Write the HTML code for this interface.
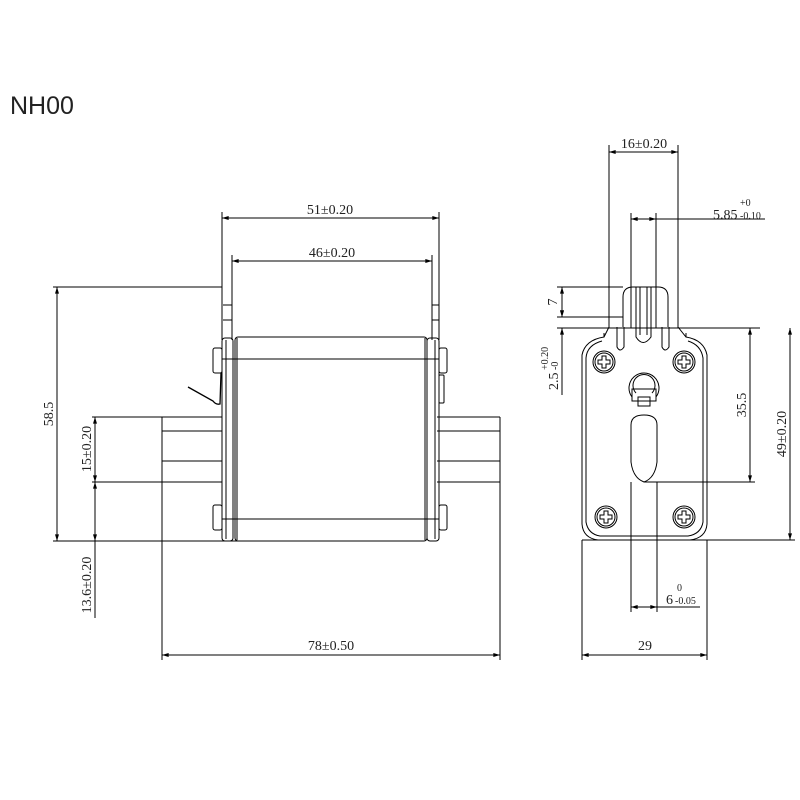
<!DOCTYPE html>
<html><head><meta charset="utf-8"><style>
html,body{margin:0;padding:0;background:#fff;width:800px;height:800px;overflow:hidden}
svg{display:block}
text{font-family:"Liberation Serif","DejaVu Serif",serif;fill:#222}
</style></head><body>
<svg width="800" height="800" viewBox="0 0 800 800" xmlns="http://www.w3.org/2000/svg">
<defs>
<marker id="a" viewBox="0 0 10 6" refX="10" refY="3" markerWidth="8" markerHeight="4" orient="auto-start-reverse" markerUnits="userSpaceOnUse"><path d="M0,0 L10,3 L0,6z" fill="#000"/></marker>
</defs>
<text x="10" y="114" style="font-family:'Liberation Sans',sans-serif;font-size:25px" fill="#111">NH00</text>
<g stroke="#000" stroke-width="1" fill="none">
<!-- LEFT VIEW -->
<!-- blades -->
<line x1="92" y1="417" x2="222" y2="417"/>
<line x1="162" y1="431" x2="222" y2="431"/>
<line x1="162" y1="461" x2="222" y2="461"/>
<line x1="92" y1="482" x2="222" y2="482"/>
<line x1="162" y1="417" x2="162" y2="660"/>
<line x1="437" y1="417" x2="500" y2="417"/>
<line x1="437" y1="431" x2="500" y2="431"/>
<line x1="437" y1="461" x2="500" y2="461"/>
<line x1="437" y1="482" x2="500" y2="482"/>
<line x1="500" y1="417" x2="500" y2="660"/>
<!-- top tabs -->
<line x1="222" y1="212" x2="222" y2="340"/>
<line x1="232" y1="255" x2="232" y2="340"/>
<line x1="223" y1="305" x2="232" y2="305"/>
<line x1="223" y1="320" x2="232" y2="320"/>
<line x1="439" y1="212" x2="439" y2="340"/>
<line x1="432" y1="255" x2="432" y2="340"/>
<line x1="432" y1="305" x2="439" y2="305"/>
<line x1="432" y1="320" x2="439" y2="320"/>
<!-- ext lines horizontal -->
<line x1="53" y1="287" x2="222" y2="287"/>
<line x1="53" y1="541" x2="258" y2="541"/>
<!-- end plates -->
<rect x="222" y="338" width="11" height="203" rx="3"/>
<rect x="427" y="338" width="12" height="203" rx="3"/>
<line x1="226" y1="340" x2="226" y2="539"/>
<line x1="435" y1="340" x2="435" y2="539"/>
<!-- body -->
<rect x="235" y="337" width="192" height="204" rx="3"/>
<line x1="237" y1="338" x2="237" y2="540"/>
<line x1="425" y1="338" x2="425" y2="540"/>
<line x1="222" y1="359" x2="439" y2="359"/>
<line x1="222" y1="519" x2="439" y2="519"/>
<!-- small tabs -->
<rect x="213" y="348" width="9" height="25" rx="2"/>
<rect x="213" y="505" width="9" height="25" rx="2"/>
<rect x="439" y="348" width="8" height="25" rx="2"/>
<rect x="439" y="375" width="5" height="28" rx="1"/>
<rect x="439" y="505" width="8" height="25" rx="2"/>
<path d="M188,387 L213,401 Q216,405 220,404 L221,373" stroke-width="1.3"/>
<!-- dims left -->
<line x1="222" y1="218" x2="439" y2="218" marker-start="url(#a)" marker-end="url(#a)"/>
<line x1="232" y1="261" x2="432" y2="261" marker-start="url(#a)" marker-end="url(#a)"/>
<line x1="162" y1="655" x2="500" y2="655" marker-start="url(#a)" marker-end="url(#a)"/>
<line x1="57" y1="287" x2="57" y2="541" marker-start="url(#a)" marker-end="url(#a)"/>
<line x1="95" y1="417" x2="95" y2="482" marker-start="url(#a)" marker-end="url(#a)"/>
<line x1="95" y1="482" x2="95" y2="541" marker-start="url(#a)" marker-end="url(#a)"/>
<line x1="95" y1="541" x2="95" y2="618"/>

<!-- RIGHT VIEW -->
<line x1="609" y1="145" x2="609" y2="328"/>
<line x1="678" y1="145" x2="678" y2="328"/>
<line x1="631" y1="213" x2="631" y2="328"/>
<line x1="656" y1="213" x2="656" y2="328"/>
<line x1="609" y1="152" x2="678" y2="152" marker-start="url(#a)" marker-end="url(#a)"/>
<line x1="631" y1="219" x2="656" y2="219" marker-start="url(#a)" marker-end="url(#a)"/>
<line x1="656" y1="219" x2="765" y2="219"/>
<!-- tab -->
<path d="M623,327 L623,297 Q623,287 633,287 L658,287 Q668,287 668,297 L668,327"/>
<path d="M636,287 L636,337 Q643,348 651,337 L651,287"/>
<path d="M640,287 L640,335 M647,287 L647,335"/>
<path d="M617,327 L617,347 Q620,353 624,347 L624,327"/>
<path d="M662,327 L662,347 Q665,353 669,347 L669,327"/>
<line x1="557" y1="287" x2="623" y2="287"/>
<line x1="557" y1="317" x2="623" y2="317"/>
<line x1="557" y1="328" x2="760" y2="328"/>
<!-- body outline -->
<path d="M609,327 L604,337 Q585,340 582,355 L582,524 Q583,538 598,540 L690,540 Q706,538 707,524 L707,355 Q704,340 686,337 L678,327"/>
<path d="M602,341 Q587,345 586,358 L586,522 Q588,534 600,536 L688,536 Q701,534 703,522 L703,358 Q701,345 688,341"/>
<path d="M604,337 L604,333 M686,337 L686,333"/>
<line x1="582" y1="540" x2="795" y2="540"/>
<!-- screws -->
<g>
<circle cx="604" cy="362" r="11"/><circle cx="604" cy="362" r="9"/>
<circle cx="684" cy="362" r="11"/><circle cx="684" cy="362" r="9"/>
<circle cx="606" cy="517" r="11"/><circle cx="606" cy="517" r="9"/>
<circle cx="684" cy="517" r="11"/><circle cx="684" cy="517" r="9"/>
</g>
<path id="cr" d="M-2,-6 h4 v4 h4 v4 h-4 v4 h-4 v-4 h-4 v-4 h4z" transform="translate(604,362)"/>
<path d="M-2,-6 h4 v4 h4 v4 h-4 v4 h-4 v-4 h-4 v-4 h4z" transform="translate(684,362)"/>
<path d="M-2,-6 h4 v4 h4 v4 h-4 v4 h-4 v-4 h-4 v-4 h4z" transform="translate(606,517)"/>
<path d="M-2,-6 h4 v4 h4 v4 h-4 v4 h-4 v-4 h-4 v-4 h4z" transform="translate(684,517)"/>
<!-- pivot -->
<path d="M632,397 A15,15 0 1,1 656,397"/>
<path d="M636,393 A11,11 0 1,1 652,393"/>
<rect x="632" y="389" width="24" height="12"/>
<rect x="638" y="397" width="12" height="9"/>
<!-- slot -->
<path d="M631,425 Q631,415 644,415 Q657,415 657,425 L657,462 Q655,478 644,482 Q633,478 631,462 Z"/>
<line x1="631" y1="482" x2="631" y2="612"/>
<line x1="657" y1="482" x2="657" y2="612"/>
<line x1="644" y1="482" x2="755" y2="482"/>
<line x1="631" y1="607" x2="657" y2="607" marker-start="url(#a)" marker-end="url(#a)"/>
<line x1="657" y1="607" x2="700" y2="607"/>
<!-- bottom ext -->
<line x1="582" y1="540" x2="582" y2="660"/>
<line x1="707" y1="540" x2="707" y2="660"/>
<line x1="582" y1="655" x2="707" y2="655" marker-start="url(#a)" marker-end="url(#a)"/>
<!-- side dims -->
<line x1="562" y1="287" x2="562" y2="317" marker-start="url(#a)" marker-end="url(#a)"/>
<line x1="562" y1="328" x2="562" y2="395" marker-start="url(#a)"/>
<line x1="562" y1="317" x2="562" y2="300" marker-start="url(#a)"/>
<line x1="750" y1="328" x2="750" y2="482" marker-start="url(#a)" marker-end="url(#a)"/>
<line x1="790" y1="328" x2="790" y2="540" marker-start="url(#a)" marker-end="url(#a)"/>
</g>
<!-- labels -->
<g font-size="14">
<text x="330" y="214" text-anchor="middle" transform="scale(1,1)">51±0.20</text>
<text x="332" y="257" text-anchor="middle">46±0.20</text>
<text x="331" y="650" text-anchor="middle">78±0.50</text>
<text transform="translate(53,414) rotate(-90)" text-anchor="middle">58.5</text>
<text transform="translate(91,449) rotate(-90)" text-anchor="middle">15±0.20</text>
<text transform="translate(91,585) rotate(-90)" text-anchor="middle">13.6±0.20</text>
<text x="644" y="148" text-anchor="middle">16±0.20</text>
<text x="713" y="219">5.85</text>
<text x="740" y="206" font-size="10">+0</text>
<text x="740" y="219" font-size="10">-0.10</text>
<text transform="translate(557,302) rotate(-90)" text-anchor="middle">7</text>
<text transform="translate(558,390) rotate(-90)">2.5</text>
<text transform="translate(558,370) rotate(-90)" font-size="10">-0</text>
<text transform="translate(548,370) rotate(-90)" font-size="10">+0.20</text>
<text transform="translate(746,405) rotate(-90)" text-anchor="middle">35.5</text>
<text transform="translate(786,434) rotate(-90)" text-anchor="middle">49±0.20</text>
<text x="666" y="604">6</text>
<text x="677" y="591" font-size="10">0</text>
<text x="675" y="604" font-size="10">-0.05</text>
<text x="645" y="650" text-anchor="middle">29</text>
</g>
</svg>
</body></html>
